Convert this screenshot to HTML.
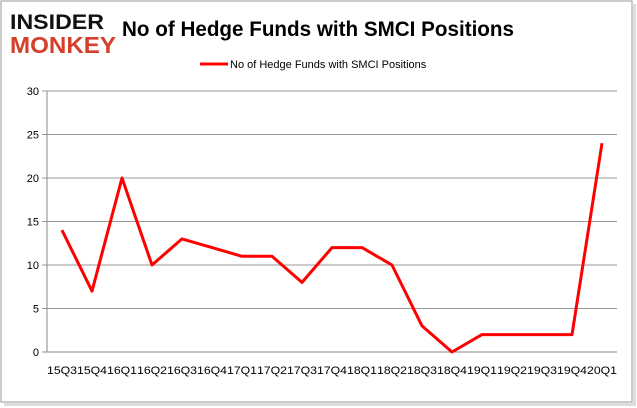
<!DOCTYPE html>
<html><head><meta charset="utf-8"><style>
body{margin:0;background:#fff;}
svg{display:block;font-family:"Liberation Sans",sans-serif;}
</style></head><body>
<svg width="637" height="408" viewBox="0 0 637 408">
<rect x="1" y="1" width="631" height="401" fill="#fff" stroke="#999" stroke-width="1"/>
<rect x="633" y="4" width="3" height="401" fill="#ddd"/>
<rect x="4" y="403" width="632" height="3" fill="#ddd"/>
<g>
<text x="10" y="29" font-size="21" font-weight="900" fill="#111" textLength="94" lengthAdjust="spacingAndGlyphs">INSIDER</text>
<text x="10" y="53" font-size="23" font-weight="900" fill="#d4402b" textLength="106" lengthAdjust="spacingAndGlyphs">MONKEY</text>
</g>
<text x="318" y="36" font-size="21" font-weight="bold" text-anchor="middle" fill="#000" textLength="392" lengthAdjust="spacingAndGlyphs">No of Hedge Funds with SMCI Positions</text>
<g>
<line x1="200" y1="64" x2="228" y2="64" stroke="#ff0000" stroke-width="3"/>
<text x="230" y="68" font-size="11" fill="#000">No of Hedge Funds with SMCI Positions</text>
</g>
<g id="grid"></g><g id="axes"></g><g id="series"></g>
</svg>
<script>
const categories=["15Q3","15Q4","16Q1","16Q2","16Q3","16Q4","17Q1","17Q2","17Q3","17Q4","18Q1","18Q2","18Q3","18Q4","19Q1","19Q2","19Q3","19Q4","20Q1"];
const values=[14,7,20,10,13,12,11,11,8,12,12,10,3,0,2,2,2,2,24];
const yTicks=[0,5,10,15,20,25,30];
const NS="http://www.w3.org/2000/svg";
const L=47,R=617,T=91,B=352,yMax=30;
const band=(R-L)/categories.length;
const x=i=>L+band*(i+0.5);
const y=v=>B-(v/yMax)*(B-T);
const grid=document.getElementById('grid'),axes=document.getElementById('axes'),series=document.getElementById('series');
function mk(tag,attrs,parent){const e=document.createElementNS(NS,tag);for(const k in attrs)e.setAttribute(k,attrs[k]);parent.appendChild(e);return e;}
yTicks.forEach(t=>{
 const g=mk('line',{x1:L-5,x2:R,y1:y(t),y2:y(t),stroke:t===0?'#888':'#999','stroke-width':1},grid);
 
 
 const tx=mk('text',{x:L-8,y:y(t)+4,'font-size':11,'text-anchor':'end',fill:'#000'},axes);
 tx.textContent=t;
 
 
});
const ax=mk('line',{x1:L,x2:L,y1:T,y2:B,stroke:'#888'},axes);


categories.forEach((c,i)=>{
 const tx=mk('text',{x:x(i),y:B+22,'font-size':11,'text-anchor':'middle',fill:'#000',textLength:band,lengthAdjust:'spacingAndGlyphs'},axes);
 tx.textContent=c;
 
 
});
const p=mk('polyline',{points:values.map((v,i)=>x(i)+','+y(v)).join(' '),fill:'none',stroke:'#ff0000','stroke-width':3,'stroke-linejoin':'round'},series);


</script>
</body></html>
